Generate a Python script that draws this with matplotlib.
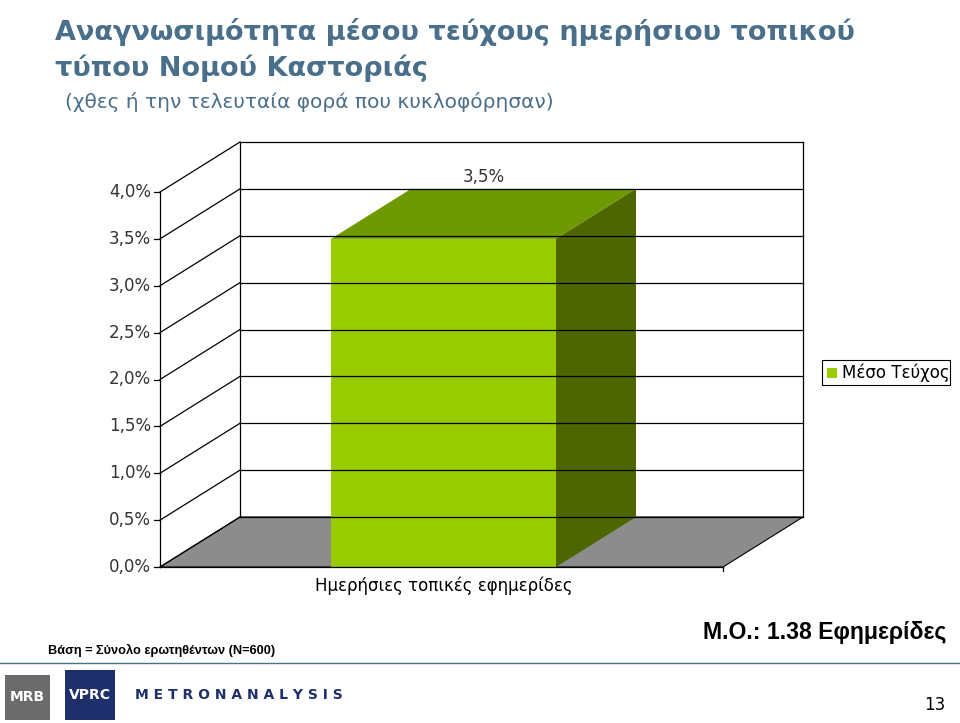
import matplotlib.pyplot as plt
from matplotlib.patches import Polygon, Rectangle

categories = ["Ημερήσιες τοπικές εφημερίδες"]
values = [3.5]
series_name = "Μέσο Τεύχος"
yticks = [0.0, 0.5, 1.0, 1.5, 2.0, 2.5, 3.0, 3.5, 4.0]
ytick_labels = ["0,0%", "0,5%", "1,0%", "1,5%", "2,0%", "2,5%", "3,0%", "3,5%", "4,0%"]

W, H = 960, 723
fig = plt.figure(figsize=(9.6, 7.23), dpi=100)

# front plane of the 3D box in pixels: x 160..723, y 192..567
ax = fig.add_axes([160 / W, 1 - 567 / H, 563 / W, 375 / H])
ax.set_xlim(0, 563)
ax.set_ylim(0, 4)
ax.axis("off")
dx, dy = 80, 50 / 375 * 4

grid_kw = dict(color="black", lw=0.9, clip_on=False)
# floor
ax.add_patch(Polygon([(0, 0), (563, 0), (563 + dx, dy), (dx, dy)], closed=True,
                     fc="#8c8c8c", ec="black", lw=0.8, clip_on=False))
# back wall grid and side wall diagonals
for t in yticks:
    ax.plot([dx, 563 + dx], [t + dy, t + dy], **grid_kw)
    ax.plot([0, dx], [t, t + dy], **grid_kw)
ax.plot([dx, dx], [dy, 4 + dy], **grid_kw)
ax.plot([563 + dx, 563 + dx], [dy, 4 + dy], **grid_kw)
ax.plot([0, 0], [0, 4], **grid_kw)
ax.plot([0, 563], [0, 0], **grid_kw)
ax.plot([563, 563], [0, -0.04], **grid_kw)
for t, lab in zip(yticks, ytick_labels):
    ax.plot([-6, 0], [t, t], **grid_kw)
    ax.text(-9, t, lab, ha="right", va="center", fontsize=12,
            family="DejaVu Sans", color="#333333")

# bar
x0, bw = 171, 225
for v in values:
    ax.add_patch(Rectangle((x0, 0), bw, v, fc="#99cc00", ec="none", clip_on=False))
    ax.add_patch(Polygon([(x0, v), (x0 + bw, v), (x0 + bw + dx, v + dy), (x0 + dx, v + dy)],
                         fc="#6e9900", ec="none", clip_on=False))
    ax.add_patch(Polygon([(x0 + bw, 0), (x0 + bw + dx, dy), (x0 + bw + dx, v + dy), (x0 + bw, v)],
                         fc="#4d6600", ec="none", clip_on=False))
    ax.text(x0 + bw / 2 + dx / 2, v + dy + 0.03, f"{v:.1f}%".replace(".", ","),
            ha="center", va="bottom", fontsize=12, color="#333333")
ax.text(x0 + bw / 2 + dx / 2 - 40, -0.1, categories[0], ha="center", va="top",
        fontsize=12, color="black")

# legend
fig.add_artist(Rectangle((822 / W, 1 - 385 / H), 128 / W, 25 / H, transform=fig.transFigure,
                         fc="white", ec="black", lw=0.8))
fig.add_artist(Rectangle((827 / W, 1 - 378 / H), 10 / W, 10 / H, transform=fig.transFigure,
                         fc="#99cc00", ec="none"))
fig.text(842 / W, 1 - 373 / H, series_name, fontsize=12, va="center")

# titles
tc = "#4a6f8a"
sans = "Liberation Sans"
fig.text(55 / W, 1 - 32 / H, "Αναγνωσιμότητα μέσου τεύχους ημερήσιου τοπικού",
         fontsize=19.5, fontweight="bold", color=tc, va="center")
fig.text(55 / W, 1 - 68 / H, "τύπου Νομού Καστοριάς", fontsize=19.5, fontweight="bold",
         color=tc, va="center")
fig.text(65 / W, 1 - 102 / H, "(χθες ή την τελευταία φορά που κυκλοφόρησαν)",
         fontsize=14.5, color=tc, va="center")
fig.text(48 / W, 1 - 650 / H, "Βάση = Σύνολο ερωτηθέντων (Ν=600)", fontsize=9.2,
         fontweight="bold", va="center", family=sans)
fig.text(703 / W, 1 - 632 / H, "Μ.Ο.: 1.38 Εφημερίδες", fontsize=16.6,
         fontweight="bold", va="center", family=sans)
fig.text(945 / W, 1 - 705 / H, "13", fontsize=12, ha="right", va="center")

# footer line and logos
fig.add_artist(plt.Line2D([0, 1], [1 - 663 / H] * 2, color="#4a6f8a", lw=1))
fig.add_artist(Rectangle((5 / W, 1 - 720 / H), 45 / W, 45 / H, transform=fig.transFigure,
                         fc="#6b6b6b", ec="none"))
fig.text(27 / W, 1 - 697 / H, "MRB", fontsize=10, color="white", ha="center",
         va="center", fontweight="bold")
fig.add_artist(Rectangle((65 / W, 1 - 720 / H), 50 / W, 50 / H, transform=fig.transFigure,
                         fc="#1f2f6b", ec="none"))
fig.text(90 / W, 1 - 695 / H, "VPRC", fontsize=10, color="white", ha="center",
         va="center", fontweight="bold")
fig.text(135 / W, 1 - 695 / H, "M E T R O N A N A L Y S I S", fontsize=10,
         color="#1f2f6b", va="center", fontweight="bold")

fig.savefig("out.png", dpi=100)
